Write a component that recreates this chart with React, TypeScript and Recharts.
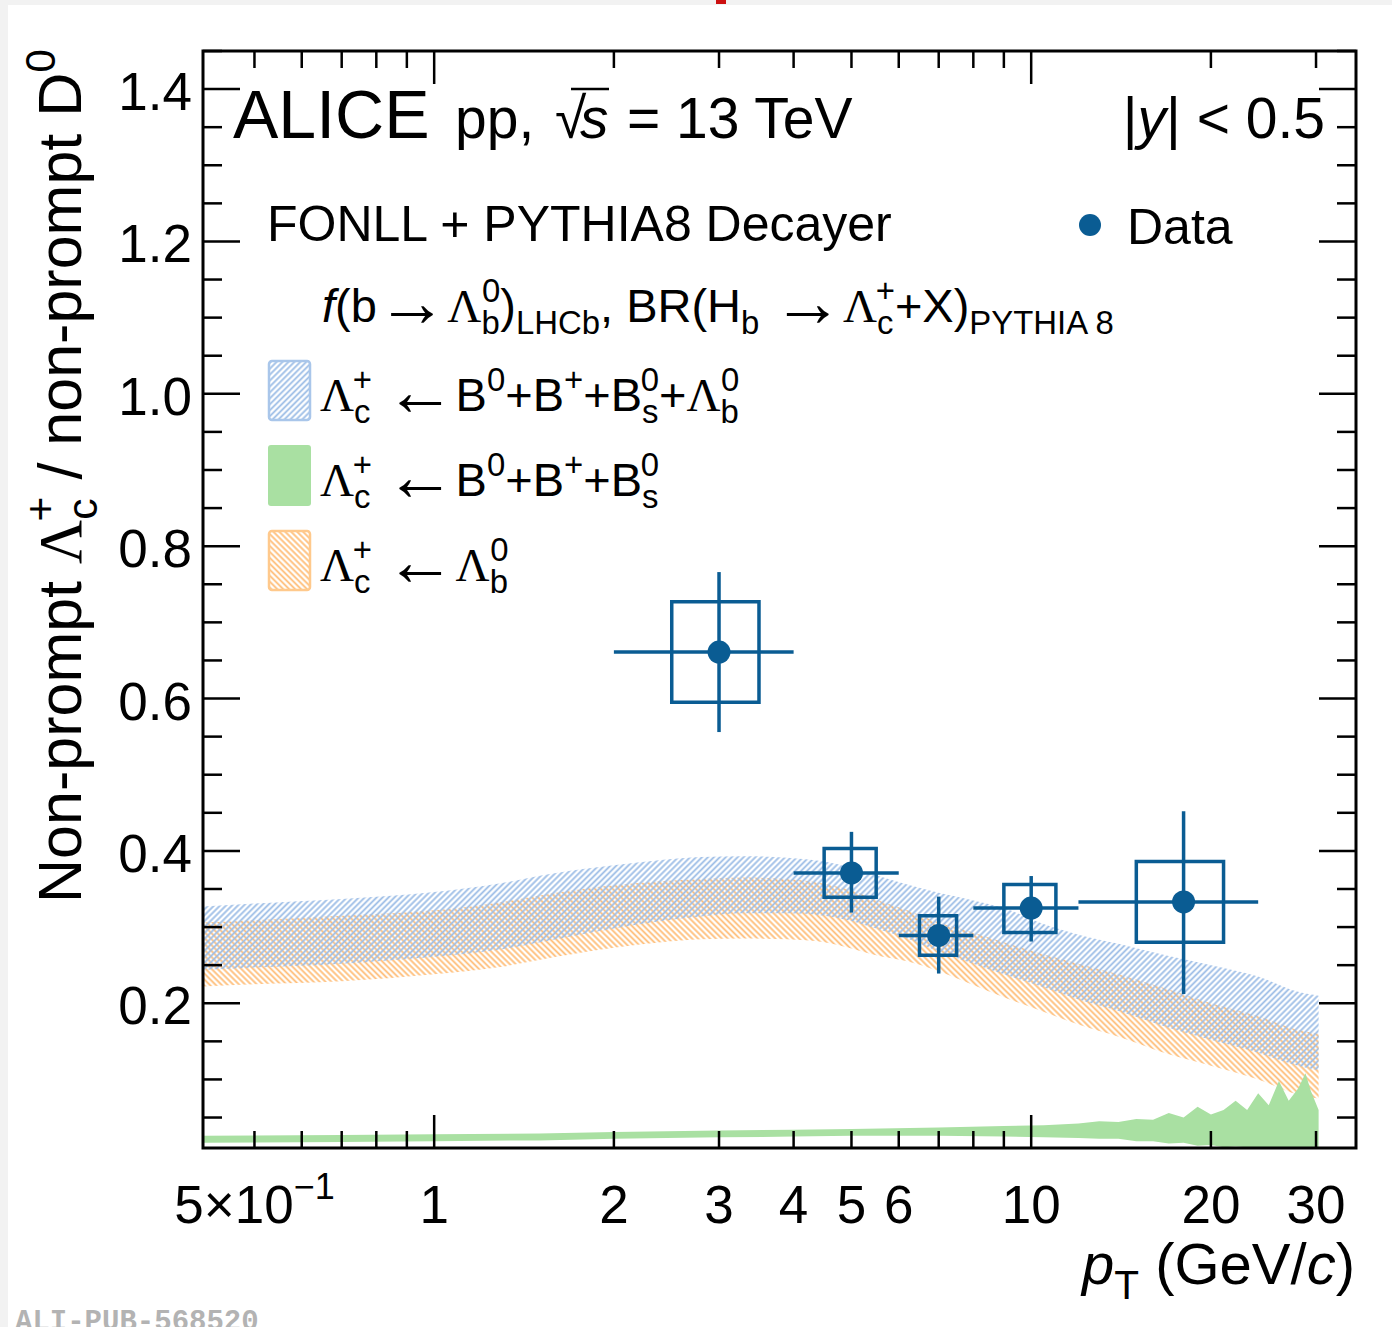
import React from "react";
import { ComposedChart, Area, Scatter, XAxis, YAxis, ErrorBar, ReferenceArea } from "recharts";

const FONT = '"Liberation Sans", Arial, Helvetica, sans-serif';
const SERIF = '"Liberation Serif", "DejaVu Serif", serif';
const ARROW_FONT = '"Liberation Serif", "DejaVu Serif", serif';
const C_DATA = "#0a5c93";

// FONLL + PYTHIA8 bands, total and Lambda_b-only
const BAND_PT = [0.41, 0.5, 0.7, 1.0, 1.3, 1.6, 2.0, 2.4, 2.8, 3.3, 3.9, 4.5, 5.0, 5.5, 6.2, 7.0, 8.0, 9.0, 10.4, 12, 14, 17, 20, 24, 28, 30.3];
const TOTAL_HI = [0.327, 0.331, 0.337, 0.346, 0.358, 0.371, 0.381, 0.388, 0.392, 0.393, 0.391, 0.386, 0.378, 0.368, 0.356, 0.345, 0.335, 0.325, 0.305, 0.290, 0.278, 0.262, 0.250, 0.235, 0.215, 0.210];
const TOTAL_LO = [0.244, 0.247, 0.252, 0.261, 0.271, 0.284, 0.298, 0.308, 0.314, 0.318, 0.318, 0.315, 0.308, 0.298, 0.285, 0.268, 0.252, 0.238, 0.222, 0.205, 0.190, 0.168, 0.152, 0.135, 0.118, 0.112];
const LB_HI = [0.306, 0.309, 0.315, 0.322, 0.333, 0.345, 0.355, 0.360, 0.363, 0.365, 0.363, 0.357, 0.348, 0.336, 0.322, 0.306, 0.293, 0.280, 0.265, 0.252, 0.238, 0.218, 0.200, 0.183, 0.165, 0.160];
const LB_LO = [0.222, 0.225, 0.229, 0.238, 0.248, 0.261, 0.273, 0.280, 0.284, 0.285, 0.284, 0.280, 0.272, 0.263, 0.255, 0.242, 0.224, 0.208, 0.190, 0.172, 0.156, 0.133, 0.118, 0.100, 0.080, 0.075];

// B mesons only band
const BMES_PT = [0.41, 0.7, 1.0, 1.5, 2.0, 3.0, 4.0, 5.0, 7.0, 9.0, 10.5, 12, 13, 14, 15, 16, 17, 18, 19, 20, 21, 22, 23, 24, 25, 26, 27, 28, 28.8, 29.4, 30.3];
const BMES_HI = [0.026, 0.027, 0.028, 0.029, 0.031, 0.033, 0.034, 0.035, 0.037, 0.039, 0.040, 0.042, 0.045, 0.044, 0.048, 0.047, 0.056, 0.050, 0.064, 0.054, 0.060, 0.072, 0.060, 0.082, 0.066, 0.098, 0.072, 0.088, 0.108, 0.085, 0.060];
const BMES_LO = [0.017, 0.018, 0.019, 0.020, 0.022, 0.024, 0.025, 0.026, 0.026, 0.025, 0.024, 0.023, 0.022, 0.022, 0.019, 0.019, 0.016, 0.017, 0.013, 0.014, 0.011, 0.012, 0.011, 0.011, 0.011, 0.011, 0.011, 0.011, 0.011, 0.011, 0.011];

// measured ratio
const DATA_PT = [3, 5, 7, 10, 18];
const BIN_LO = [2, 4, 6, 8, 12];
const BIN_HI = [4, 6, 8, 12, 24];
const RATIO = [0.661, 0.371, 0.289, 0.325, 0.333];
const STAT_LO = [0.556, 0.319, 0.239, 0.281, 0.212];
const STAT_HI = [0.766, 0.425, 0.340, 0.367, 0.452];
const SYST_LO = [0.595, 0.339, 0.263, 0.293, 0.280];
const SYST_HI = [0.727, 0.403, 0.315, 0.356, 0.386];
const SYST_HALF_W = [0.5, 0.5, 0.5, 1, 3];

const X_TICKS = [0.5, 0.6, 0.7, 0.8, 0.9, 1, 2, 3, 4, 5, 6, 7, 8, 9, 10, 20, 30];
const X_MAJOR = [1, 10];
const X_LABELED = [0.5, 1, 2, 3, 4, 5, 6, 10, 20, 30];
const Y_TICKS = [0.05, 0.1, 0.15, 0.2, 0.25, 0.3, 0.35, 0.4, 0.45, 0.5, 0.55, 0.6, 0.65, 0.7, 0.75, 0.8, 0.85, 0.9, 0.95, 1.0, 1.05, 1.1, 1.15, 1.2, 1.25, 1.3, 1.35, 1.4, 1.45];
const Y_MAJOR = [0.2, 0.4, 0.6, 0.8, 1.0, 1.2, 1.4];

const totalRows = BAND_PT.map((pT, i) => ({ pT, band: [TOTAL_LO[i], TOTAL_HI[i]] }));
const lbRows = BAND_PT.map((pT, i) => ({ pT, band: [LB_LO[i], LB_HI[i]] }));
const bmesRows = BMES_PT.map((pT, i) => ({ pT, band: [BMES_LO[i], BMES_HI[i]] }));
const dataRows = DATA_PT.map((pT, i) => ({
  pT,
  ratio: RATIO[i],
  statErr: [RATIO[i] - STAT_LO[i], STAT_HI[i] - RATIO[i]],
  binErr: [pT - BIN_LO[i], BIN_HI[i] - pT],
}));

const W = 1392;
const H = 1327;
// axes are 1px thick (a 0-sized axis is not drawn), margins compensate
const M = { top: 51, right: 36, bottom: 178, left: 202 };
const PLOT_W = W - M.left - 1 - M.right;
const PLOT_H = H - M.top - M.bottom - 1;

function XTick(props: any) {
  const { x, y, payload } = props;
  const v = payload.value as number;
  const len = X_MAJOR.includes(v) ? 33 : 17;
  const top = y - PLOT_H;
  return (
    <g>
      <line x1={x} x2={x} y1={y} y2={y - len} stroke="#000" strokeWidth={2.5} />
      <line x1={x} x2={x} y1={top} y2={top + len} stroke="#000" strokeWidth={2.5} />
      {X_LABELED.includes(v) && (
        <text x={x} y={y + 75} textAnchor="middle" fontSize={53} fontFamily={FONT} fill="#000">
          {v < 1 ? (
            <>
              {`${Math.round(v * 10)}×10`}
              <tspan dy={-24} fontSize={36}>−1</tspan>
            </>
          ) : (
            String(v)
          )}
        </text>
      )}
    </g>
  );
}

function YTick(props: any) {
  const { x, y, payload } = props;
  const v = payload.value as number;
  const major = Y_MAJOR.includes(v);
  const len = major ? 37 : 19;
  const right = x + PLOT_W;
  return (
    <g>
      <line x1={x} x2={x + len} y1={y} y2={y} stroke="#000" strokeWidth={2.5} />
      <line x1={right} x2={right - len} y1={y} y2={y} stroke="#000" strokeWidth={2.5} />
      {major && (
        <text x={x - 11} y={y + 21} textAnchor="end" fontSize={53} fontFamily={FONT} fill="#000">
          {v.toFixed(1)}
        </text>
      )}
    </g>
  );
}

type Seg = { t?: string; it?: boolean; serif?: boolean; arrow?: boolean; sub?: string; sup?: string };

// text with ROOT-like sub/superscripts, positions kept relative so text-anchor works
function Rich({ x, y, size, segs, anchor = "start", transform }: { x: number; y: number; size: number; segs: Seg[]; anchor?: string; transform?: string }) {
  const small = size * 0.7;
  let cur = 0;
  const shift = (off: number) => {
    const d = off - cur;
    cur = off;
    return d;
  };
  const nodes: any[] = [];
  segs.forEach((s, i) => {
    if (s.t) {
      nodes.push(
        <tspan
          key={i + "t"}
          dy={shift(s.arrow ? size * 0.08 : 0)}
          fontSize={s.arrow ? size * 1.5 : size}
          fontStyle={s.it ? "italic" : undefined}
          fontFamily={s.arrow ? ARROW_FONT : s.serif ? SERIF : undefined}
        >
          {s.t}
        </tspan>
      );
    }
    if (s.sub) {
      nodes.push(
        <tspan key={i + "b"} dy={shift(size * 0.26)} fontSize={small}>
          {s.sub}
        </tspan>
      );
    }
    if (s.sup) {
      nodes.push(
        <tspan key={i + "p"} dy={shift(-size * 0.42)} dx={s.sub ? -s.sub.length * small * 0.54 : undefined} fontSize={small}>
          {s.sup}
        </tspan>
      );
    }
  });
  return (
    <text x={x} y={y} textAnchor={anchor as any} fontFamily={FONT} fill="#000" transform={transform} style={{ whiteSpace: "pre" }}>
      {nodes}
    </text>
  );
}

const LAMBDA_C: Seg = { t: "Λ", serif: true, sub: "c", sup: "+" };
const SPACE: Seg = { t: " " };
const LEFT_ARROW: Seg = { t: "←", arrow: true };

export default function App() {
  return (
    <div style={{ position: "absolute", left: 0, top: 0, width: W, height: H, background: "#f2f2f2", overflow: "hidden" }}>
      <div style={{ position: "absolute", left: 8, top: 5, width: W - 8, height: H - 5, background: "#fff" }} />
      <div style={{ position: "absolute", left: 0, top: 0 }}>
        <ComposedChart width={W} height={H} margin={M}>
          <XAxis
            dataKey="pT"
            type="number"
            scale="log"
            domain={[0.41, 35]}
            allowDataOverflow
            ticks={X_TICKS}
            interval={0}
            height={1}
            tickSize={0}
            tickMargin={0}
            axisLine={false}
            tickLine={false}
            tick={XTick}
          />
          <YAxis
            dataKey="ratio"
            type="number"
            domain={[0.01, 1.45]}
            allowDataOverflow
            ticks={Y_TICKS}
            interval={0}
            width={1}
            tickSize={0}
            tickMargin={0}
            axisLine={false}
            tickLine={false}
            tick={YTick}
          />
          <Area data={lbRows} dataKey="band" type="monotone" stroke="none" fill="url(#hatchOrange)" fillOpacity={1} dot={false} activeDot={false} isAnimationActive={false} />
          <Area data={totalRows} dataKey="band" type="monotone" stroke="none" fill="url(#hatchBlue)" fillOpacity={1} dot={false} activeDot={false} isAnimationActive={false} />
          <Area data={bmesRows} dataKey="band" type="linear" stroke="none" fill="#a9e0a2" fillOpacity={1} dot={false} activeDot={false} isAnimationActive={false} />
          {DATA_PT.map((pT, i) => (
            <ReferenceArea
              key={pT}
              x1={pT - SYST_HALF_W[i]}
              x2={pT + SYST_HALF_W[i]}
              y1={SYST_LO[i]}
              y2={SYST_HI[i]}
              fill="none"
              stroke={C_DATA}
              strokeWidth={3.5}
              ifOverflow="visible"
            />
          ))}
          <Scatter
            data={dataRows}
            dataKey="ratio"
            fill={C_DATA}
            isAnimationActive={false}
            shape={(p: any) => <circle cx={p.cx} cy={p.cy} r={11.5} fill={C_DATA} />}
          >
            <ErrorBar dataKey="statErr" direction="y" width={0} stroke={C_DATA} strokeWidth={3.5} />
            <ErrorBar dataKey="binErr" direction="x" width={0} stroke={C_DATA} strokeWidth={3.5} />
          </Scatter>
          <ReferenceArea x1={0.41} x2={35} y1={0.01} y2={1.45} fill="none" stroke="#000" strokeWidth={3} ifOverflow="visible" />
        </ComposedChart>
      </div>
      <svg width={W} height={H} style={{ position: "absolute", left: 0, top: 0, pointerEvents: "none" }}>
        <defs>
          <pattern id="hatchBlue" patternUnits="userSpaceOnUse" width={4.2} height={4.2} patternTransform="rotate(45)">
            <line x1={2.1} y1={0} x2={2.1} y2={4.2} stroke="#9dbde6" strokeWidth={1.8} />
          </pattern>
          <pattern id="hatchOrange" patternUnits="userSpaceOnUse" width={4.2} height={4.2} patternTransform="rotate(-45)">
            <line x1={2.1} y1={0} x2={2.1} y2={4.2} stroke="#ffbd78" strokeWidth={1.8} />
          </pattern>
        </defs>
        <rect x={716} y={0} width={10} height={4} fill="#cc1010" />

        <text x={233} y={138} fontSize={68} fontFamily={FONT} fill="#000">ALICE</text>
        <text x={455} y={138} fontSize={57} fontFamily={FONT} fill="#000">pp,</text>
        <text x={555} y={138} fontSize={57} fontFamily={FONT} fill="#000">√</text>
        <text x={580} y={138} fontSize={57} fontFamily={FONT} fontStyle="italic" fill="#000">s</text>
        <line x1={571} x2={609} y1={89} y2={89} stroke="#000" strokeWidth={2.5} />
        <text x={627} y={138} fontSize={57} fontFamily={FONT} fill="#000">= 13 TeV</text>
        <Rich x={1325} y={138} size={57} anchor="end" segs={[{ t: "|" }, { t: "y", it: true }, { t: "| < 0.5" }]} />

        <text x={267} y={241} fontSize={50} fontFamily={FONT} fill="#000">FONLL + PYTHIA8 Decayer</text>
        <circle cx={1090} cy={225} r={11} fill={C_DATA} />
        <text x={1127} y={244} fontSize={50} fontFamily={FONT} fill="#000">Data</text>

        <Rich
          x={322}
          y={322}
          size={47}
          segs={[
            { t: "f", it: true },
            { t: "(b" },
            { t: "→", arrow: true },
            { t: "Λ", serif: true, sub: "b", sup: "0" },
            { t: ")", sub: "LHCb" },
            { t: ", BR(H", sub: "b" },
            SPACE,
            { t: "→", arrow: true },
            { t: "Λ", serif: true, sub: "c", sup: "+" },
            { t: "+X)", sub: "PYTHIA 8" },
          ]}
        />

        <rect x={269} y={361} width={41} height={59} rx={3} fill="url(#hatchBlue)" stroke="#a9c6ea" strokeWidth={2.5} />
        <rect x={268} y={445} width={43} height={61} rx={3} fill="#a9e0a2" />
        <rect x={269} y={531} width={41} height={59} rx={3} fill="url(#hatchOrange)" stroke="#ffc98c" strokeWidth={2.5} />

        <Rich x={320} y={411} size={47} segs={[LAMBDA_C, SPACE, LEFT_ARROW, { t: "B", sup: "0" }, { t: "+B", sup: "+" }, { t: "+B", sub: "s", sup: "0" }, { t: "+" }, { t: "Λ", serif: true, sub: "b", sup: "0" }]} />
        <Rich x={320} y={496} size={47} segs={[LAMBDA_C, SPACE, LEFT_ARROW, { t: "B", sup: "0" }, { t: "+B", sup: "+" }, { t: "+B", sub: "s", sup: "0" }]} />
        <Rich x={320} y={581} size={47} segs={[LAMBDA_C, SPACE, LEFT_ARROW, { t: "Λ", serif: true, sub: "b", sup: "0" }]} />

        <Rich
          x={0}
          y={0}
          size={61}
          anchor="middle"
          transform="translate(81 476) rotate(-90)"
          segs={[{ t: "Non-prompt " }, LAMBDA_C, { t: " / non-prompt D", sup: "0" }]}
        />
        <Rich x={1355} y={1284} size={58} anchor="end" segs={[{ t: "p", it: true, sub: "T" }, { t: " (GeV/" }, { t: "c", it: true }, { t: ")" }]} />

        <text x={15} y={1330} fontSize={29} fontWeight="bold" fontFamily='"Liberation Mono", "DejaVu Sans Mono", monospace' fill="#b3b3b3">
          ALI-PUB-568520
        </text>
      </svg>
    </div>
  );
}
